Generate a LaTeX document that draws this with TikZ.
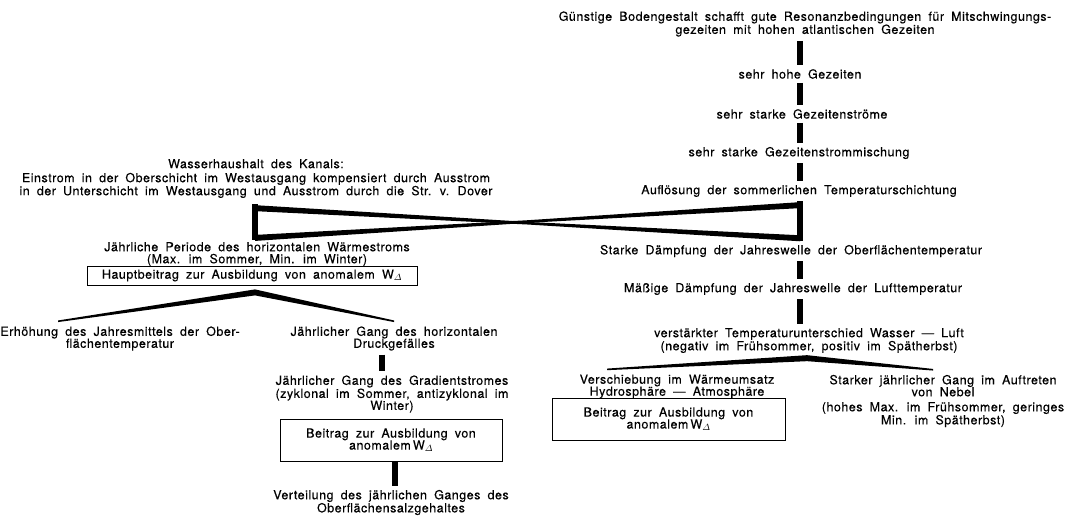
\documentclass[tikz,border=0pt]{standalone}
\usepackage{amsmath}
\usepackage{fontspec}
\setmainfont{TeX Gyre Heros}[LetterSpace=4,WordSpace=1.8,FakeBold=0.3]
\usetikzlibrary{calc}
\newcommand{\Wd}{W\ensuremath{_{\varDelta}}}
\newcommand{\taperline}[2]{%
  \fill ($(#1)+(0,-3)$) -- ($(#1)!.5!(#2)+(0,-1.3)$) -- ($(#2)+(0,-3)$)
    -- ($(#2)+(0,3)$) -- ($(#1)!.5!(#2)+(0,1.3)$) -- ($(#1)+(0,3)$) -- cycle;}
\newcommand{\forkfill}[3]{%
  \fill ($(#2)+(0,-.8)$) -- ($(#1)+(0,-3)$) -- ($(#3)+(0,-.8)$)
    -- ($(#3)+(0,.8)$) -- ($(#1)+(0,3)$) -- ($(#2)+(0,.8)$) -- cycle;}

\begin{document}
\begin{tikzpicture}[x=1pt,y=-1pt,
    txt/.style={font=\fontsize{12.5}{12}\selectfont,inner sep=1pt,align=center},
    box/.style={txt,draw,thick,inner sep=0pt},
    bar/.style={line width=6pt,shorten <=3pt,shorten >=3pt}]
  \useasboundingbox (0,0) rectangle (1075,519);
  \coordinate (sp) at (800,0);
  \coordinate (lsp) at (255,0);
  \coordinate (dsp) at (382,0);
  \coordinate (ssp) at (395,0);

  \node[txt] (g1) at (805,24) {Günstige Bodengestalt schafft gute Resonanzbedingungen für Mitschwingungs-\\gezeiten mit hohen atlantischen Gezeiten};
  \node[txt] (g2) at (800,74) {sehr hohe Gezeiten};
  \node[txt] (g3) at (802,114) {sehr starke Gezeitenströme};
  \node[txt] (g4) at (799,153) {sehr starke Gezeitenstrommischung};
  \node[txt] (g5) at (799,191) {Auflösung der sommerlichen Temperaturschichtung};
  \node[txt] (g6) at (791,251) {Starke Dämpfung der Jahreswelle der Oberflächentemperatur};
  \node[txt] (g7) at (793,289) {Mäßige Dämpfung der Jahreswelle der Lufttemperatur};
  \node[txt] (g8) at (809,340.5) {verstärkter Temperaturunterschied Wasser — Luft\\(negativ im Frühsommer, positiv im Spätherbst)};
  \node[txt] (g9) at (677,386.5) {Verschiebung im Wärmeumsatz\\Hydrosphäre — Atmosphäre};
  \node[box,minimum width=233,minimum height=42] (g10) at (668.5,419) {Beitrag zur Ausbildung von\\anomalem\,\Wd};
  \node[txt] (g11) at (943,401) {Starker jährlicher Gang im Auftreten\\von Nebel\\[3pt](hohes Max. im Frühsommer, geringes\\Min. im Spätherbst)};

  \node[txt] (w1) at (256,178.5) {Wasserhaushalt des Kanals:\\[2pt]Einstrom in der Oberschicht im Westausgang kompensiert durch Ausstrom\\in der Unterschicht im Westausgang und Ausstrom durch die Str. v. Dover};
  \node[txt] (w2) at (257,254) {Jährliche Periode des horizontalen Wärmestroms\\(Max. im Sommer, Min. im Winter)};
  \node[box,minimum width=330,minimum height=19] (w3) at (252,275.5) {Hauptbeitrag zur Ausbildung von anomalem \Wd};
  \node[txt] (w4) at (120,338.5) {Erhöhung des Jahresmittels der Ober-\\flächentemperatur};
  \node[txt] (w5) at (394,338.5) {Jährlicher Gang des horizontalen\\Druckgefälles};
  \node[txt] (w6) at (392,394) {Jährlicher Gang des Gradientstromes\\(zyklonal im Sommer, antizyklonal im\\Winter)};
  \node[box,minimum width=222,minimum height=42] (w7) at (391,440) {Beitrag zur Ausbildung von\\anomalem\,\Wd};
  \node[txt] (w8) at (391,502.5) {Verteilung des jährlichen Ganges des\\Oberflächensalzgehaltes};

  \foreach \a/\b in {g1/g2,g2/g3,g3/g4,g4/g5,g5/g6,g6/g7,g7/g8}
    \draw[bar] (\a.south -| sp) -- (\b.north -| sp);
  \draw[bar,shorten <=5pt,shorten >=1pt] (w1.south -| lsp) -- (w2.north -| lsp);
  \draw[bar] (w5.south -| dsp) -- (w6.north -| dsp);
  \draw[bar,shorten <=0pt] (w7.south -| ssp) -- (w8.north -| ssp);

  \coordinate (lt) at ($(w1.south -| lsp)+(0,9)$);
  \coordinate (lb) at ($(w2.north -| lsp)+(0,-3)$);
  \coordinate (rt) at ($(g5.south -| sp)+(0,7)$);
  \coordinate (rb) at ($(g6.north -| sp)+(0,-5.5)$);
  \taperline{lt}{rb}
  \taperline{lb}{rt}

  \coordinate (fa) at ($(w3.south)+(3,7)$);
  \coordinate (fl) at ($(w4.north)+(-62,-4)$);
  \coordinate (fr) at ($(w5.north)+(0,-4)$);
  \forkfill{fa}{fl}{fr}
  \coordinate (ga) at ($(g8.south)+(-2,4)$);
  \coordinate (gl) at ($(g9.north)+(-70,-4)$);
  \coordinate (gr) at ($(g11.north)+(-10,-4)$);
  \forkfill{ga}{gl}{gr}
\end{tikzpicture}
\end{document}
